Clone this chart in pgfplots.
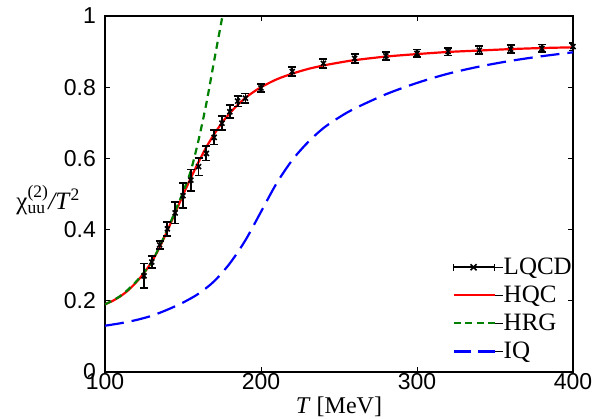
\documentclass[border=0pt]{standalone}
\usepackage{fontspec}
\setmainfont{Liberation Serif}
\setsansfont{Liberation Sans}
\usepackage{amsmath}
\usepackage{pgfplots}
\usepackage{pgfplotstable}
\pgfplotsset{compat=1.18}

\pgfplotstableread{
T v e
125 0.270 0.035
130 0.309 0.016
135 0.357 0.012
140 0.402 0.020
145 0.447 0.030
150 0.495 0.035
155 0.539 0.030
160 0.577 0.025
165 0.614 0.020
170 0.659 0.020
175 0.699 0.020
180 0.731 0.018
185 0.761 0.015
190 0.769 0.013
200 0.798 0.012
220 0.844 0.012
240 0.867 0.012
260 0.881 0.012
280 0.888 0.011
300 0.895 0.011
320 0.900 0.011
340 0.904 0.011
360 0.907 0.011
380 0.909 0.011
400 0.914 0.011
}\lqcd

\pgfplotstableread{
T v
100 0.190
105 0.200
110 0.213
115 0.230
120 0.252
125 0.278
130 0.310
135 0.350
140 0.397
145 0.447
150 0.497
155 0.545
160 0.590
165 0.632
170 0.668
175 0.700
180 0.727
185 0.750
190 0.770
195 0.786
200 0.800
210 0.822
220 0.838
230 0.851
240 0.861
250 0.869
260 0.876
280 0.886
300 0.893
320 0.899
340 0.903
360 0.907
380 0.910
400 0.912
}\hqc

\pgfplotstableread{
T v
100 0.190
110 0.214
120 0.254
130 0.310
140 0.400
145 0.452
150 0.505
155 0.565
160 0.652
165 0.755
170 0.875
175 0.993
177 1.045
}\hrg

\pgfplotstableread{
T v
100 0.130
110 0.137
120 0.146
130 0.158
140 0.175
150 0.195
160 0.220
170 0.255
180 0.305
190 0.370
200 0.450
210 0.530
220 0.595
230 0.645
240 0.685
250 0.715
260 0.740
280 0.780
300 0.812
320 0.838
340 0.858
360 0.874
380 0.887
400 0.898
}\iq

\begin{document}
\begin{tikzpicture}
\begin{axis}[
  scale only axis,
  width=468pt, height=356pt,
  xmin=100, xmax=400, ymin=0, ymax=1,
  xtick={100,200,300,400},
  ytick={0,0.2,0.4,0.6,0.8,1},
  yticklabels={0,0.2,0.4,0.6,0.8,1},
  tick align=inside, tick pos=both,
  major tick length=5pt,
  tick style={black, line width=0.6pt},
  axis line style={black, line width=1.4pt},
  /pgf/number format/assume math mode=true,
  ticklabel style={font=\sffamily\fontsize{23}{27}\selectfont, inner sep=0pt},
  x tick label style={yshift=-1pt},
  y tick label style={xshift=-9pt},
  xlabel={\textit{T} [MeV]},
  xlabel style={font=\fontsize{24}{28}\selectfont, inner sep=0pt, at={(axis description cs:0.5,-0.07)}, anchor=north},
  ylabel={χ$^{\text{(2)}}_{\text{uu}}$\textit{/T}$^{\text{2}}$},
  ylabel style={font=\fontsize{25}{29}\selectfont, rotate=-90, inner sep=0pt, at={(axis description cs:-0.053,0.483)}, anchor=east},
  legend style={draw=none, fill=none, at={(axis description cs:1.0,0.029)}, anchor=south east,
    font=\fontsize{25}{29}\selectfont, row sep=8pt, inner sep=0pt,
    nodes={inner sep=1pt, anchor=west}},
  legend cell align=left,
  legend image code/.code={\draw[#1] (0pt,0pt) -- (41pt,0pt);},
]
\addlegendimage{legend image code/.code={
    \draw[black, line width=1.8pt] (0pt,0pt) -- (41pt,0pt);
    \draw[black, line width=1.8pt] (0pt,-3.5pt) -- (0pt,3.5pt) (41pt,-3.5pt) -- (41pt,3.5pt);
    \draw[black, line width=1.6pt] (17pt,-3pt) -- (23pt,3pt) (17pt,3pt) -- (23pt,-3pt);
    \path (41pt,0pt) -- (49pt,0pt);
  }}
\addlegendentry{LQCD}
\addlegendimage{legend image code/.code={\draw[red, line width=2.2pt] (0pt,0pt) -- (41pt,0pt); \path (41pt,0pt) -- (49pt,0pt);}}
\addlegendentry{HQC}
\addlegendimage{legend image code/.code={\draw[green!50!black, line width=2.2pt, dash pattern=on 7pt off 4.5pt] (0pt,0pt) -- (41pt,0pt); \path (41pt,0pt) -- (49pt,0pt);}}
\addlegendentry{HRG}
\addlegendimage{legend image code/.code={\draw[blue, line width=2.2pt, dash pattern=on 17pt off 7pt] (0pt,0pt) -- (41pt,0pt); \path (41pt,0pt) -- (49pt,0pt);}}
\addlegendentry{IQ}
\addplot[red, line width=2.2pt, smooth, no markers, forget plot] table[x=T, y=v] {\hqc};
\addplot[green!50!black, line width=2.2pt, dash pattern=on 7pt off 5pt, smooth, no markers, forget plot] table[x=T, y=v] {\hrg};
\addplot[blue, line width=2.2pt, dash pattern=on 19pt off 8pt, smooth, no markers, forget plot] table[x=T, y=v] {\iq};
\addplot[black, only marks, mark=x, mark size=3.5pt, mark options={line width=1.6pt}, forget plot,
  error bars/.cd, y dir=both, y explicit,
  error bar style={line width=1.8pt},
  error mark options={rotate=90, mark size=4pt, line width=1.8pt}]
  table[x=T, y=v, y error=e] {\lqcd};
\end{axis}
\pgfresetboundingbox
\path (current axis.south west) ++(-105pt,-47pt) rectangle ++(600pt,419pt);
\end{tikzpicture}
\end{document}
